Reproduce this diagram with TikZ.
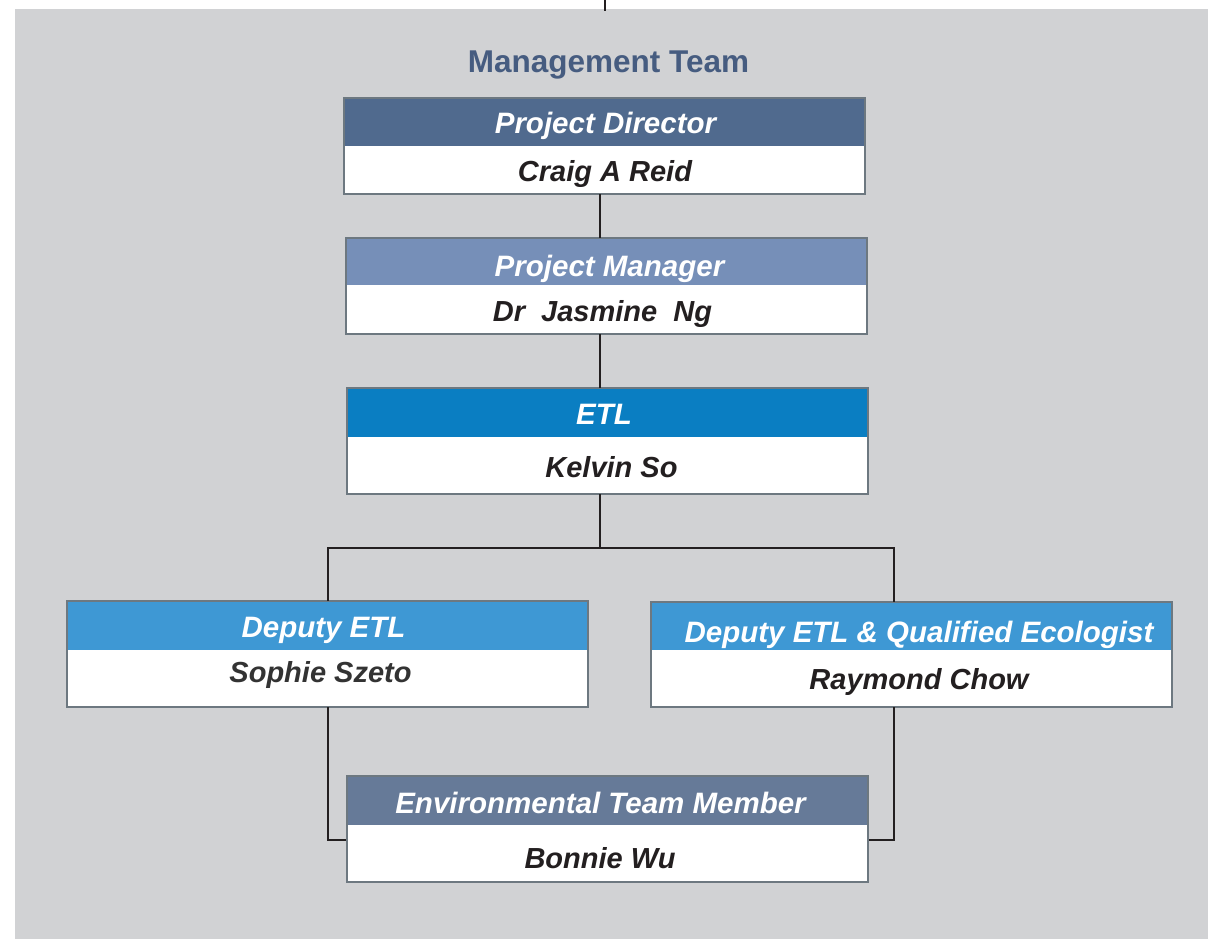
\documentclass[tikz,border=0pt]{standalone}
\usepackage{fontspec}
\setmainfont{Liberation Sans}
\definecolor{bg}{HTML}{D1D2D4}
\definecolor{titlec}{HTML}{465C80}
\definecolor{pdc}{HTML}{506A8E}
\definecolor{pmc}{HTML}{768FB8}
\definecolor{etlc}{HTML}{0A7EC2}
\definecolor{depc}{HTML}{3E98D4}
\definecolor{envc}{HTML}{667A98}
\definecolor{edgec}{HTML}{6D7880}
\definecolor{namec}{HTML}{231F20}
\definecolor{linec}{HTML}{231F20}
\newcommand\tx[3]{\raisebox{-#2pt}{\makebox[0pt]{\hspace*{#1pt}\hspace*{#1pt}#3}}}
\tikzset{
  hdr/.style={rectangle, inner sep=0pt, minimum width=521pt, minimum height=48pt, text=white,
    text height=20.8pt, text depth=0pt,
    font=\fontsize{29.5}{34}\selectfont\bfseries\itshape},
  body/.style={rectangle, fill=white, inner sep=0pt, minimum width=521pt, text=namec,
    text height=20.8pt, text depth=0pt,
    font=\fontsize{29}{34}\selectfont\bfseries\itshape},
  outline/.style={draw=edgec, line width=1.6pt},
  conn/.style={draw=linec, line width=1.4pt}
}
\begin{document}
\begin{tikzpicture}[x=1pt,y=-1pt]
\useasboundingbox (0,0) rectangle (1208,939);
\fill[bg] (15,9) rectangle (1208,939);
\coordinate (topin) at (605,0);
\coordinate (topend) at (605,11);
\draw[conn] (topin) -- (topend);

\node[text=titlec, font=\fontsize{31.5}{36}\selectfont\bfseries, inner sep=0pt,
  text height=22.6pt, text depth=0pt] (title) at (608.5,61.5) {Management Team};

\coordinate (etlbranch) at (600,548);
\coordinate (depleftc) at (328,548);
\coordinate (deprightc) at (894,548);
\coordinate (envl) at (347,840);
\coordinate (envr) at (868,840);

% Project Director
\node[hdr, fill=pdc] (pdH) at (604.5,122) {\tx{1}{1}{Project Director}};
\node[body, minimum height=48pt] (pd) at (604.5,170) {\tx{0.5}{1.5}{Craig A Reid}};
\draw[outline] (pdH.north west) rectangle (pd.south east);

% Project Manager
\node[hdr, fill=pmc, minimum height=47pt] (pmH) at (606.5,261.5) {\tx{3}{5}{Project Manager}};
\node[body, minimum height=49pt] (pm) at (606.5,309.5) {\tx{-4}{2}{Dr\ \ Jasmine\ \ Ng}};
\draw[outline] (pmH.north west) rectangle (pm.south east);

% ETL
\node[hdr, fill=etlc, minimum height=49pt] (etlH) at (607.5,412.5) {\tx{-3.5}{1.5}{ETL}};
\node[body, minimum height=57pt] (etl) at (607.5,465.5) {\tx{4}{1.5}{Kelvin So}};
\draw[outline] (etlH.north west) rectangle (etl.south east);

% Deputy ETL
\node[hdr, fill=depc, minimum height=49pt] (depH) at (327.5,625.5) {\tx{-4}{2}{Deputy ETL}};
\node[body, minimum height=57pt, text=black!80] (dep) at (327.5,678.5) {\tx{-7}{-6.5}{Sophie Szeto}};
\draw[outline] (depH.north west) rectangle (dep.south east);

% Deputy ETL & QE
\node[hdr, fill=depc, minimum height=48pt] (qeH) at (911.5,626) {\tx{7.5}{6}{Deputy ETL \& Qualified Ecologist}};
\node[body, minimum height=57pt] (qe) at (911.5,678.5) {\tx{7.5}{1}{Raymond Chow}};
\draw[outline] (qeH.north west) rectangle (qe.south east);

% connectors
\draw[conn] (pd.south -| 600,0) -- (pmH.north -| 600,0);
\draw[conn] (pm.south -| 600,0) -- (etlH.north -| 600,0);
\draw[conn] (etl.south -| etlbranch) -- (etlbranch);
\draw[conn] (depH.north -| depleftc) -- (depleftc) -- (deprightc) -- (qeH.north -| deprightc);
\draw[conn] (dep.south -| depleftc) |- (envl);
\draw[conn] (qe.south -| deprightc) |- (envr);

% Environmental Team Member
\node[hdr, fill=envc, minimum height=49pt] (envH) at (607.5,800.5) {\tx{-7}{2.5}{Environmental Team Member}};
\node[body, minimum height=57pt] (env) at (607.5,853.5) {\tx{-7.5}{4.5}{Bonnie Wu}};
\draw[outline] (envH.north west) rectangle (env.south east);
\end{tikzpicture}
\end{document}
